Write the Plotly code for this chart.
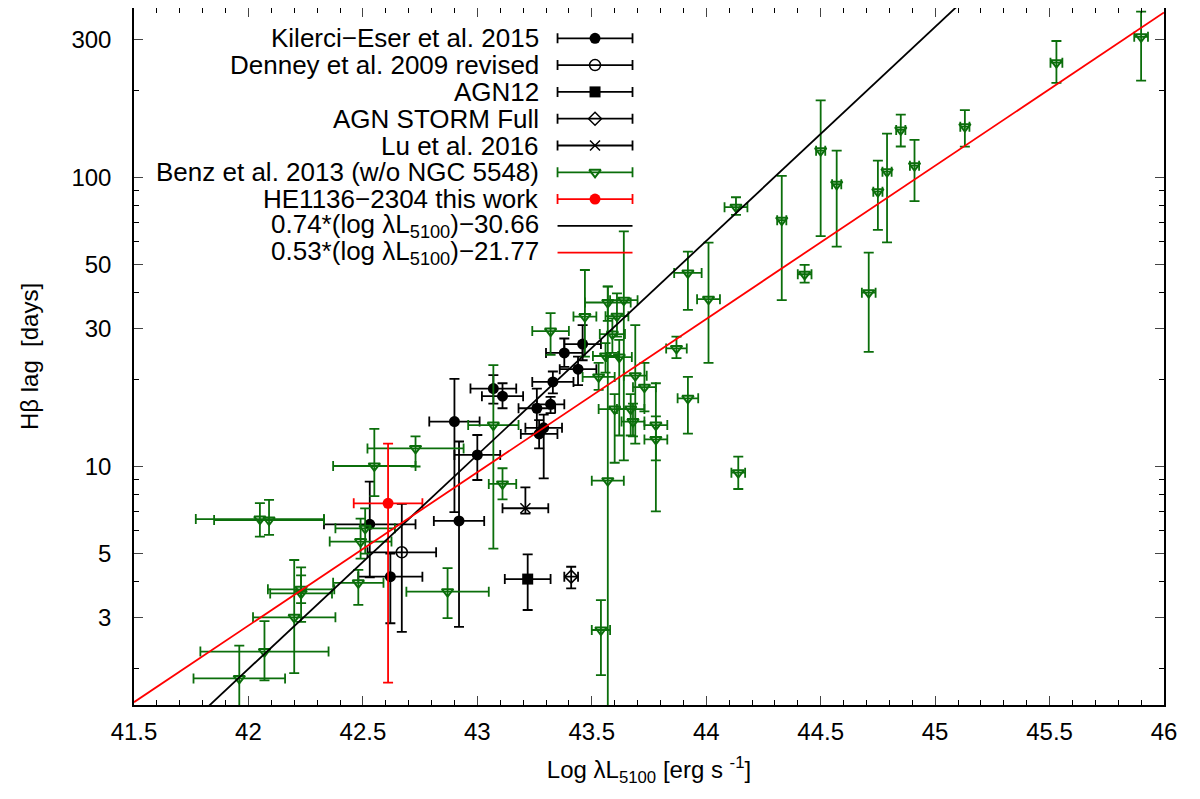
import numpy as np
import plotly.graph_objects as go

# Kilerci-Eser et al. 2015 (filled circles)
ke_logL = [42.90, 42.53, 42.62, 42.92, 43.00, 43.07, 43.11, 43.26, 43.32, 43.33, 43.38, 43.46, 43.44, 43.27, 43.29]
ke_lag = [14.3, 6.31, 4.16, 6.48, 10.96, 18.6, 17.5, 15.9, 16.4, 19.6, 24.7, 26.5, 21.7, 12.96, 13.6]
ke_up = [5.8, 2.55, 0.84, 5.72, 1.89, 2.1, 1.9, 2.7, 1.0, 1.7, 3.0, 4.3, 2.3, 1.5, 1.5]
ke_dn = [7.35, 2.17, 1.29, 3.69, 1.98, 2.1, 1.6, 2.9, 1.1, 1.7, 2.6, 3.2, 2.6, 1.4, 4.5]
ke_xerr = [0.11, 0.20, 0.14, 0.11, 0.10, 0.10, 0.09, 0.08, 0.06, 0.09, 0.08, 0.08, 0.08, 0.08, 0.08]

# Denney et al. 2009 revised (open circle)
de_logL = [42.67]
de_lag = [5.05]
de_up = [2.37]
de_dn = [2.37]
de_xerr = [0.15]

# AGN12 (filled square)
a12_logL = [43.22]
a12_lag = [4.08]
a12_up = [0.89]
a12_dn = [0.89]
a12_xerr = [0.10]

# AGN STORM Full (open diamond)
st_logL = [43.41]
st_lag = [4.16]
st_up = [0.34]
st_dn = [0.37]
st_xerr = [0.03]

# Lu et al. 2016 (cross)
lu_logL = [43.21]
lu_lag = [7.17]
lu_up = [1.3]
lu_dn = [0.3]
lu_xerr = [0.10]

# Benz et al. 2013 w/o NGC 5548 (open down-triangles)
bz_logL = [42.05, 42.09, 42.55, 42.73, 42.51, 42.49, 42.48, 42.87, 42.23, 42.20,
           42.23, 42.07, 41.96, 43.07, 43.11, 43.32, 43.47, 43.57, 43.64, 43.61,
           43.59, 43.56, 43.62, 43.53, 43.69, 43.73, 43.60, 43.67, 43.68, 43.78,
           43.78, 43.57, 43.54, 43.87, 43.92, 43.92, 44.01, 44.14, 44.13, 44.33,
           44.43, 44.50, 44.57, 44.71, 44.75, 44.79, 44.85, 44.91, 45.13, 45.53,
           45.90]
bz_lag = [6.58, 6.53, 10.04, 11.55, 6.11, 5.50, 3.96, 3.69, 3.64, 3.01,
          3.76, 2.29, 1.85, 13.9, 8.7, 29.4, 33.0, 36.9, 37.6, 33.1,
          28.7, 24.1, 23.9, 20.4, 20.6, 18.8, 15.8, 15.8, 14.3, 13.9,
          12.4, 8.93, 2.72, 25.6, 17.2, 46.7, 37.9, 9.52, 78.8, 71.1,
          46.2, 123.6, 94.6, 39.9, 89.2, 104.6, 145.8, 109.7, 149.6, 249.0,
          306.0]
bz_up = [0.89, 1.13, 3.46, 1.15, 1.05, 1.1, 0.43, 0.76, 0.84, 1.74,
         0.44, 0.63, 0.55, 8.5, 1.16, 4.5, 14.8, 5.0, 27.4, 6.6,
         3.8, 2.6, 3.5, 2.4, 10.2, 4.0, 2.0, 2.0, 2.2, 5.5,
         2.5, 33.0, 0.73, 2.5, 3.2, 8.6, 21.5, 1.3, 6.5, 30.0,
         3.6, 61.0, 29.0, 15.0, 25.0, 37.0, 19.0, 25.0, 21.0, 47.0,
         68.0]
bz_dn = [0.86, 0.73, 2.14, 1.55, 1.11, 0.7, 0.64, 0.70, 0.74, 1.08,
         0.39, 0.47, 0.6, 8.7, 1.0, 5.1, 9.0, 5.0, 27.1, 5.0,
         4.0, 3.0, 11.1, 2.0, 8.6, 3.3, 5.5, 3.0, 1.6, 3.4,
         5.4, 8.43, 0.82, 1.9, 4.2, 11.9, 15.1, 1.16, 4.7, 33.5,
         3.0, 61.0, 37.0, 15.0, 23.4, 45.0, 18.0, 27.0, 22.0, 37.0,
         90.0]
bz_xerr = [0.28, 0.24, 0.18, 0.21, 0.13, 0.135, 0.11, 0.18, 0.135, 0.18,
           0.145, 0.28, 0.20, 0.11, 0.06, 0.08, 0.05, 0.10, 0.06, 0.05,
           0.055, 0.055, 0.055, 0.07, 0.05, 0.05, 0.07, 0.06, 0.05, 0.05,
           0.05, 0.07, 0.04, 0.045, 0.045, 0.06, 0.05, 0.03, 0.05, 0.02,
           0.03, 0.02, 0.02, 0.03, 0.02, 0.02, 0.02, 0.02, 0.02, 0.026,
           0.03]

# HE1136-2304 this work
he_logL = [42.61]
he_lag = [7.46]
he_up = [4.54]
he_dn = [5.67]
he_xerr = [0.15]

# fit lines as drawn: log(lag) = slope * logL + offset
fit_slopes = [0.74, 0.53]
fit_offsets = [-30.78, -21.81]
fit_colors = ["black", "red"]
fit_x = [41.5, 46.0]

legend_labels = [
    "Kilerci\u2212Eser et al. 2015",
    "Denney et al. 2009 revised",
    "AGN12",
    "AGN STORM Full",
    "Lu et al. 2016",
    "Benz et al. 2013 (w/o NGC 5548)",
    "HE1136\u22122304 this work",
    "0.74*(log \u03bbL<sub>5100</sub>)\u221230.66",
    "0.53*(log \u03bbL<sub>5100</sub>)\u221221.77",
]

GREEN = "#0b6e0b"
FONT = "Liberation Sans, Arial, sans-serif"

# marker style per dataset: (symbol, size, color, line width)
styles = [
    ("circle", 11, "black", 0),
    ("circle-open", 11, "black", 1.5),
    ("square", 11, "black", 0),
    ("diamond-open", 10, "black", 1.5),
    ("x-thin-open", 10, "black", 1.5),
    ("triangle-down-open", 10, GREEN, 2),
    ("circle", 11, "red", 0),
]

datasets = [
    (ke_logL, ke_lag, ke_up, ke_dn, ke_xerr),
    (de_logL, de_lag, de_up, de_dn, de_xerr),
    (a12_logL, a12_lag, a12_up, a12_dn, a12_xerr),
    (st_logL, st_lag, st_up, st_dn, st_xerr),
    (lu_logL, lu_lag, lu_up, lu_dn, lu_xerr),
    (bz_logL, bz_lag, bz_up, bz_dn, bz_xerr),
    (he_logL, he_lag, he_up, he_dn, he_xerr),
]

fig = go.Figure()

for (xs, ys, up, dn, xe), (sym, size, col, lw) in zip(datasets, styles):
    fig.add_trace(go.Scatter(
        x=xs, y=ys, mode="markers",
        marker=dict(symbol=sym, size=size, color=col, line=dict(color=col, width=lw)),
        error_y=dict(type="data", symmetric=False, array=up, arrayminus=dn,
                     color=col, thickness=1.8, width=5),
        error_x=dict(type="data", array=xe, color=col, thickness=1.8, width=5),
        showlegend=False, hoverinfo="x+y",
    ))

for slope, off, col in zip(fit_slopes, fit_offsets, fit_colors):
    fy = [10 ** (slope * v + off) for v in fit_x]
    fig.add_trace(go.Scatter(x=fit_x, y=fy, mode="lines",
                             line=dict(color=col, width=1.8), showlegend=False))

# gnuplot-like key: right aligned text with a sample on its right
key_cx = 0.4476
key_half = 0.0364
key_text_x = 0.3949
key_rows = [(705 - (38.3 + 26.8 * i)) / 697 for i in range(len(legend_labels))]

for i, (sym, size, col, lw) in enumerate(styles):
    fig.add_trace(go.Scatter(
        x=[key_cx], y=[key_rows[i]], xaxis="x2", yaxis="y2", mode="markers",
        marker=dict(symbol=sym, size=size, color=col, line=dict(color=col, width=lw)),
        error_x=dict(type="data", array=[key_half], color=col, thickness=1.8, width=5),
        showlegend=False, hoverinfo="skip",
    ))
for j, col in enumerate(fit_colors):
    r = key_rows[len(styles) + j]
    fig.add_trace(go.Scatter(
        x=[key_cx - key_half, key_cx + key_half], y=[r, r], xaxis="x2", yaxis="y2",
        mode="lines", line=dict(color=col, width=1.8), showlegend=False, hoverinfo="skip",
    ))

for lab, r in zip(legend_labels, key_rows):
    fig.add_annotation(text=lab, x=key_text_x, y=r, xref="paper", yref="paper",
                       xanchor="right", yanchor="middle", showarrow=False,
                       font=dict(family=FONT, size=26, color="black"))

fig.update_layout(
    width=1200, height=799,
    margin=dict(l=126, r=44, t=0, b=102),
    paper_bgcolor="white", plot_bgcolor="white",
    font=dict(family=FONT, size=24, color="black"),
    xaxis=dict(
        range=[41.5, 46], tick0=41.5, dtick=0.5, ticks="inside", ticklen=9, tickwidth=1.3,
        showline=True, linecolor="black", linewidth=1.5, mirror="ticks",
        showgrid=False, zeroline=False, automargin=False,
        minor=dict(dtick=0.1, ticks="inside", ticklen=5, tickwidth=1.3, tickcolor="black", showgrid=False),
        tickfont=dict(size=24), ticklabelstandoff=4,
        title=dict(text="Log \u03bbL<sub>5100</sub> [erg s <sup>-1</sup>]", standoff=18,
                   font=dict(size=24)),
    ),
    yaxis=dict(
        type="log", range=[np.log10(1.497), 2.5854],
        tickvals=[3, 5, 10, 30, 50, 100, 300], ticktext=["3", "5", "10", "30", "50", "100", "300"],
        ticks="inside", ticklen=9, tickwidth=1.3,
        showline=True, linecolor="black", linewidth=1.5, mirror="ticks",
        showgrid=False, zeroline=False, automargin=False,
        minor=dict(tickvals=[2, 4, 6, 7, 8, 9, 20, 40, 60, 70, 80, 90, 200],
                   ticks="inside", ticklen=5, tickwidth=1.3, tickcolor="black", showgrid=False),
        tickfont=dict(size=24), ticklabelstandoff=16,
        title=dict(text="H\u03b2 lag  [days]", standoff=26, font=dict(size=24)),
    ),
    xaxis2=dict(overlaying="x", range=[0, 1], visible=False, anchor="y2"),
    yaxis2=dict(overlaying="y", range=[0, 1], visible=False, anchor="x2"),
)

fig.write_html("out.html")
